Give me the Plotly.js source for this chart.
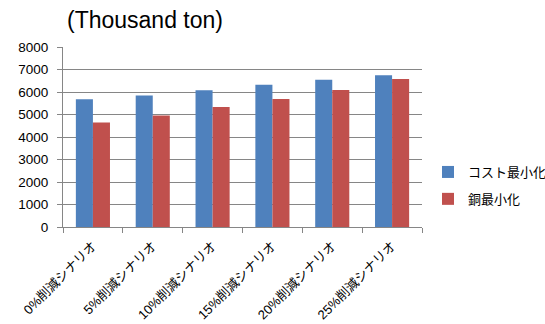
<!DOCTYPE html>
<html>
<head>
<meta charset="utf-8">
<script src="https://cdn.plot.ly/plotly-3.0.1.min.js"></script>
<style>html,body{margin:0;padding:0;background:#fff;}#chart{width:545px;height:324px;}</style>
</head>
<body>
<div id="chart"></div>
<script>
// Scenario categories (copper reduction scenarios)
const categories = ["0%削減シナリオ", "5%削減シナリオ", "10%削減シナリオ", "15%削減シナリオ", "20%削減シナリオ", "25%削減シナリオ"];
// Series values, thousand tons
const costMin = [5680, 5850, 6080, 6320, 6550, 6740];
const copperMin = [4640, 4960, 5330, 5690, 6090, 6580];
const seriesNames = ["コスト最小化", "銅最小化"];
const yTicks = [0, 1000, 2000, 3000, 4000, 5000, 6000, 7000, 8000];

const fontFamily = "Liberation Sans, Arial, 'Noto Sans CJK JP', sans-serif";

const traces = [
  { type: "bar", name: seriesNames[0], legendgroup: "cost", x: categories, y: costMin,
    marker: { color: "#4F81BD" } },
  { type: "bar", name: seriesNames[1], legendgroup: "copper", x: categories, y: copperMin,
    marker: { color: "#C0504D" } }
];

const layout = {
  width: 545, height: 324,
  margin: { l: 63, r: 123, t: 47, b: 97, autoexpand: false },
  paper_bgcolor: "#fff", plot_bgcolor: "#fff",
  font: { family: fontFamily, color: "#000", size: 12 },
  barmode: "group", bargap: 0.43, bargroupgap: 0,
  title: { text: "(Thousand ton)", xref: "container", x: 67 / 545, xanchor: "left",
    yref: "container", y: 1 - 20 / 324, yanchor: "middle",
    font: { size: 23, family: fontFamily, color: "#000" } },
  xaxis: {
    type: "category", tickangle: -45, tickson: "boundaries",
    ticks: "outside", ticklen: 5, tickcolor: "#868686",
    showline: true, linecolor: "#868686", linewidth: 1,
    showgrid: false, ticklabelstandoff: 5,
    tickfont: { size: 13, family: fontFamily }
  },
  yaxis: {
    range: [0, 8000], tickvals: yTicks, ticktext: yTicks.map(String),
    ticks: "outside", ticklen: 5, tickcolor: "#868686",
    showline: true, linecolor: "#868686", linewidth: 1,
    showgrid: true, gridcolor: "#868686", gridwidth: 1,
    zeroline: false, ticklabelstandoff: 6,
    tickfont: { size: 13.5, family: fontFamily }
  },
  legend: {
    xref: "container", x: 428 / 545, xanchor: "left",
    yref: "container", y: 1 - 157 / 324, yanchor: "top",
    font: { size: 13, family: "'Noto Sans CJK JP', sans-serif" },
    itemwidth: 30, tracegroupgap: 7, traceorder: "grouped"
  },
  showlegend: true
};

Plotly.newPlot("chart", traces, layout, { displayModeBar: false, staticPlot: true });
</script>
</body>
</html>
